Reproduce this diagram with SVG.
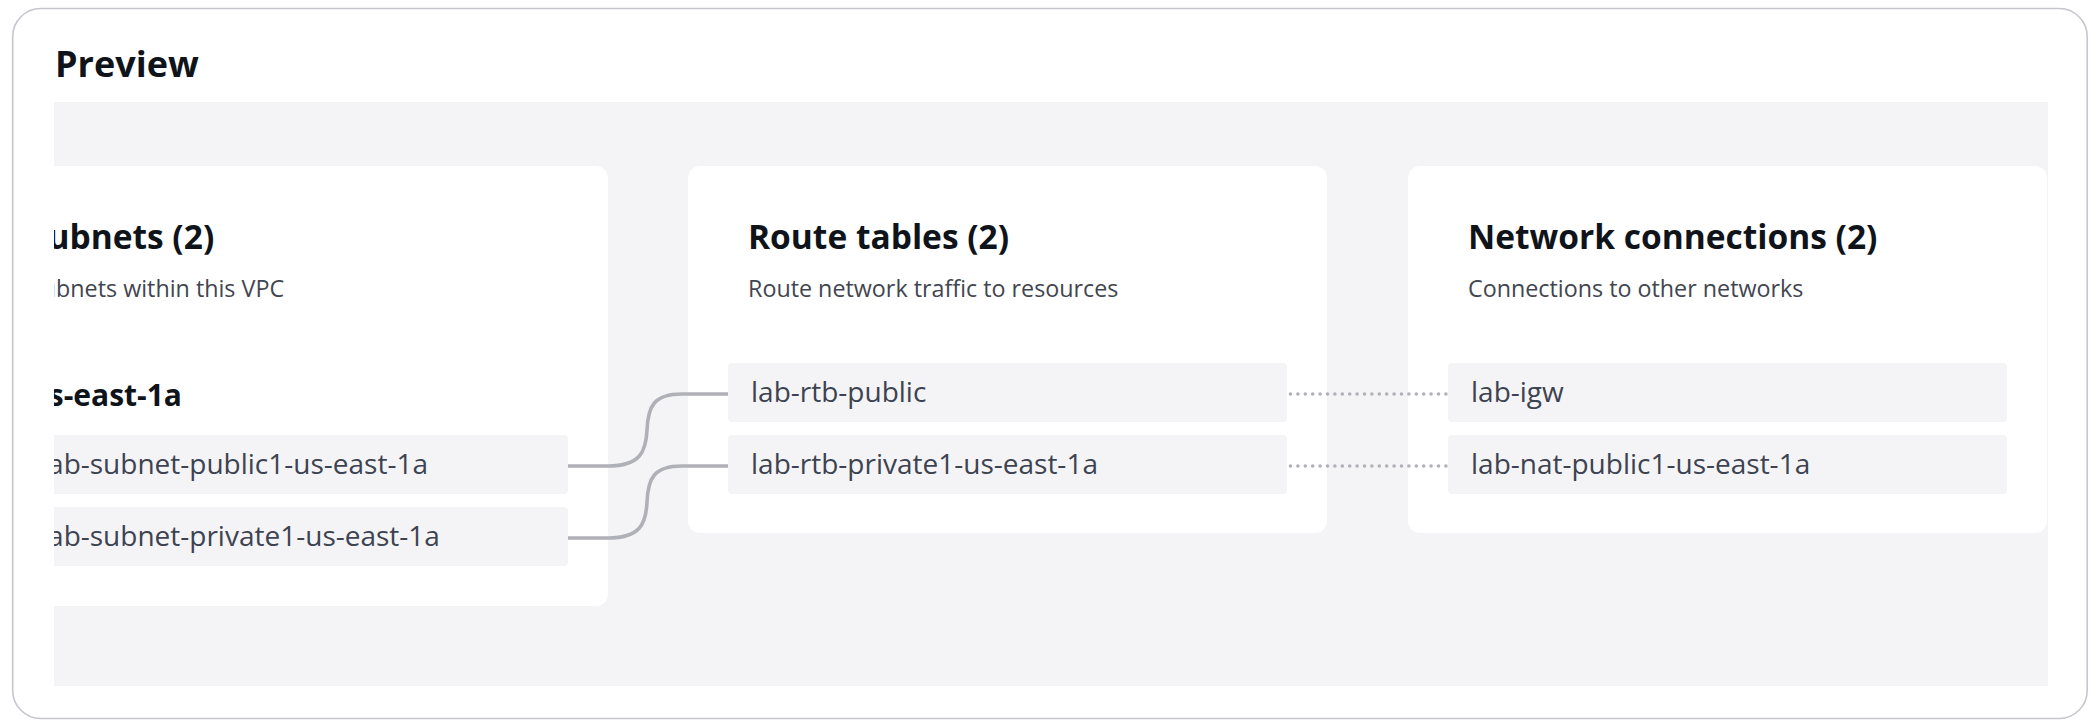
<svg xmlns="http://www.w3.org/2000/svg" width="2096" height="724" viewBox="0 0 2096 724">
<style>
text{font-family:"Open Sans","Noto Sans","Liberation Sans",sans-serif}
.h1{font-weight:700;font-size:36px;fill:#0f141a}
.title{font-weight:700;font-size:33.5px;fill:#0f141a}
.sub{font-size:23.3px;fill:#424650}
.grp{font-weight:700;font-size:30px;fill:#0f141a}
.item{font-size:28px;fill:#3d4350}
.box{fill:#f4f4f6}
.card{fill:#ffffff}
.link{fill:none;stroke:#b0b0b8;stroke-width:3.6}
.dot{fill:none;stroke:#b0b0b8;stroke-width:3.6;stroke-dasharray:0 7.4;stroke-linecap:round}
</style>
<defs>
<clipPath id="canvas"><rect x="54" y="102" width="1994" height="584"/></clipPath>
</defs>
<rect x="0" y="0" width="2096" height="724" fill="#ffffff"/>
<rect id="panel" x="12.7" y="8.5" width="2074.5" height="710" rx="28" fill="#ffffff" stroke="#c6c6cd" stroke-width="1.6"/>
<text class="h1" x="55" y="77">Preview</text>
<g clip-path="url(#canvas)">
<rect x="54" y="102" width="1994" height="584" fill="#f4f4f6"/>
<g id="card-subnets">
<rect class="card" x="-31" y="166" width="639" height="440" rx="12"/>
<text class="title" x="29" y="249">Subnets (2)</text>
<text class="sub" x="29" y="297">Subnets within this VPC</text>
<text class="grp" x="29" y="406">us-east-1a</text>
<g id="subnet-public"><rect class="box" x="9" y="435" width="559" height="59" rx="4"/><text class="item" x="41" y="474">lab-subnet-public1-us-east-1a</text></g>
<g id="subnet-private"><rect class="box" x="9" y="507" width="559" height="59" rx="4"/><text class="item" x="41" y="546">lab-subnet-private1-us-east-1a</text></g>
</g>
<g id="card-routes">
<rect class="card" x="688" y="166" width="639" height="367" rx="12"/>
<text class="title" x="748" y="249">Route tables (2)</text>
<text class="sub" x="748" y="297">Route network traffic to resources</text>
<g id="rtb-public"><rect class="box" x="728" y="363" width="559" height="59" rx="4"/><text class="item" x="751" y="402">lab-rtb-public</text></g>
<g id="rtb-private"><rect class="box" x="728" y="435" width="559" height="59" rx="4"/><text class="item" x="751" y="474">lab-rtb-private1-us-east-1a</text></g>
</g>
<g id="card-network">
<rect class="card" x="1408" y="166" width="639" height="367" rx="12"/>
<text class="title" x="1468" y="249">Network connections (2)</text>
<text class="sub" x="1468" y="297">Connections to other networks</text>
<g id="igw"><rect class="box" x="1448" y="363" width="559" height="59" rx="4"/><text class="item" x="1471" y="402">lab-igw</text></g>
<g id="nat"><rect class="box" x="1448" y="435" width="559" height="59" rx="4"/><text class="item" x="1471" y="474">lab-nat-public1-us-east-1a</text></g>
</g>
<g id="connectors">
<path class="link" d="M568,466 H608 C640,466 646,452 647,430 C648,406 654,394 682,394 H728"/>
<path class="link" d="M568,538 H608 C640,538 646,524 647,502 C648,478 654,466 682,466 H728"/>
<path class="dot" d="M1290.5,394 H1446"/>
<path class="dot" d="M1290.5,466 H1446"/>
</g>
</g>
</svg>
